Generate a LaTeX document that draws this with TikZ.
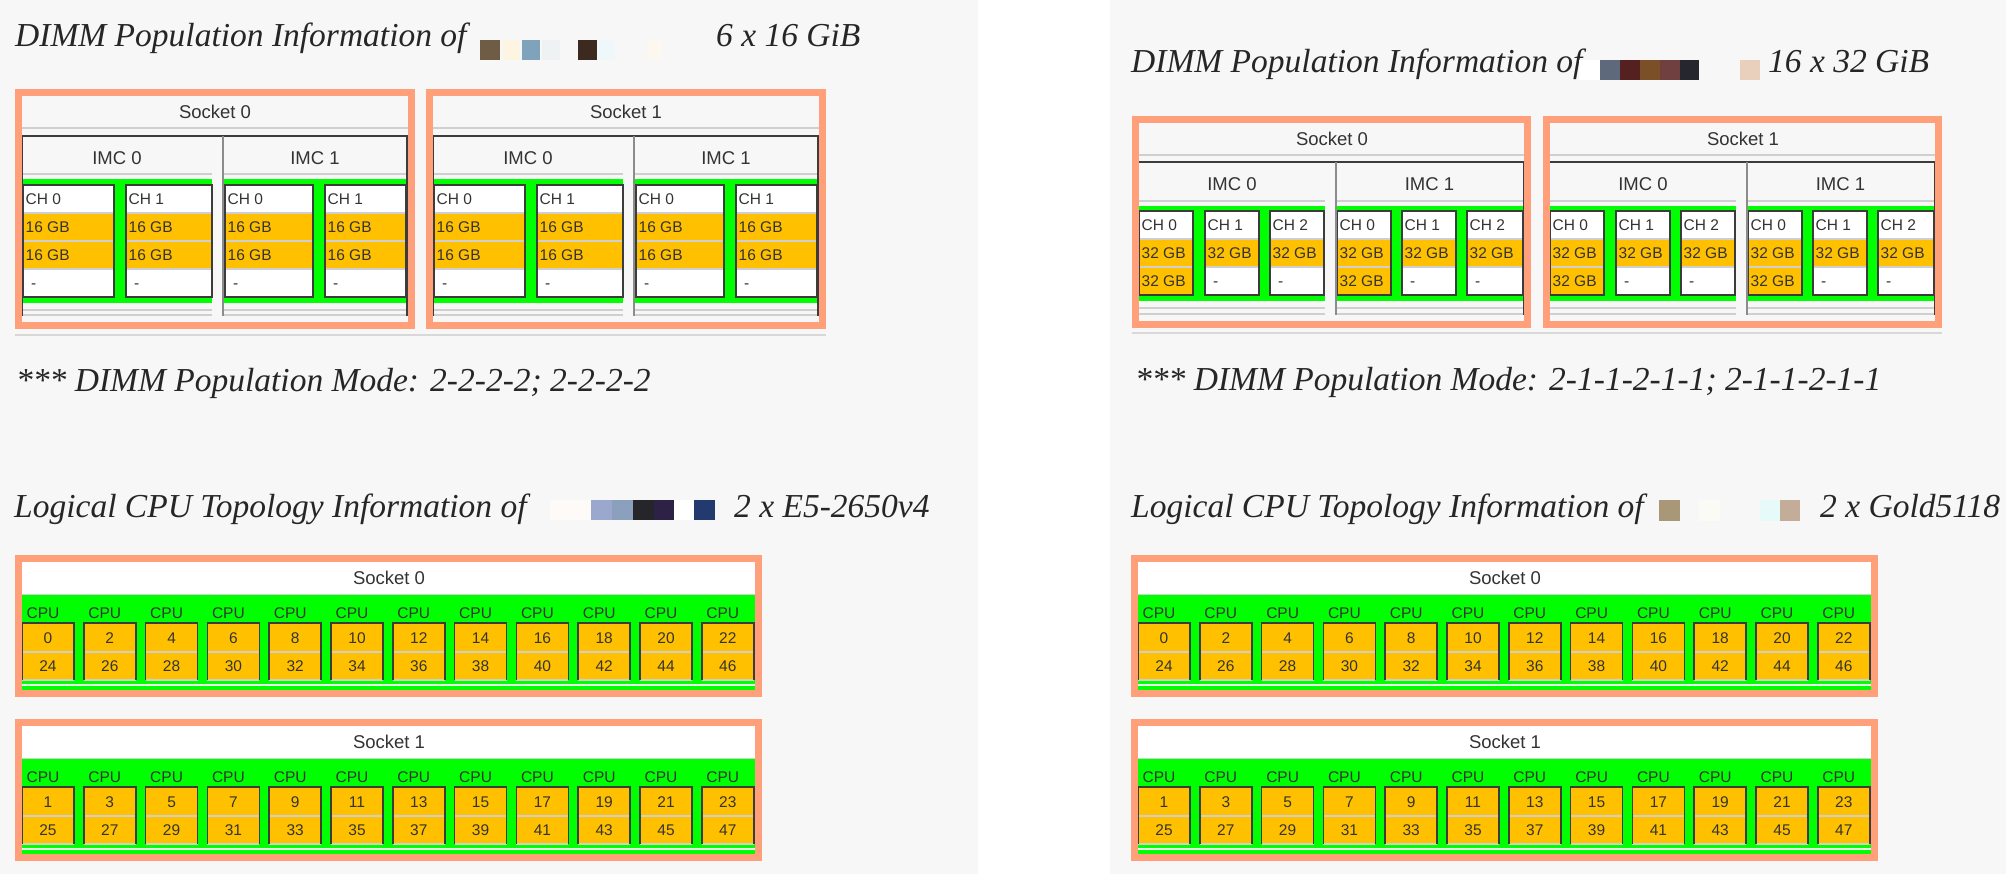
\documentclass[tikz,border=0pt]{standalone}
\usepackage{fontspec}
\setmainfont{Liberation Serif}
\setsansfont{Liberation Sans}
\definecolor{pagebg}{HTML}{F7F7F7}
\definecolor{salmonc}{HTML}{FFA07A}
\definecolor{limec}{HTML}{00FF00}
\definecolor{goldc}{HTML}{FFC000}
\definecolor{txtc}{HTML}{333333}
\definecolor{ttlc}{HTML}{262626}
\definecolor{sepc}{HTML}{CFCFCF}
\definecolor{brdc}{HTML}{3C3C3C}
\definecolor{splitc}{HTML}{8C8C8C}
\definecolor{rulec}{HTML}{D8D8D8}
\tikzset{
  ttl/.style={font=\fontsize{33.5}{40}\selectfont\itshape, text=ttlc, inner sep=0pt, anchor=base west},
  celltxt/.style={font=\sffamily\fontsize{15.5}{18}\selectfont, text=txtc, inner sep=0pt, text height=11pt, text depth=0pt, anchor=west},
  numtxt/.style={font=\sffamily\fontsize{15.5}{18}\selectfont, text=txtc, inner sep=0pt, text height=11pt, text depth=0pt},
  hdrtxt/.style={font=\sffamily\fontsize{18.5}{22}\selectfont, text=txtc, inner sep=0pt, text height=13pt, text depth=0pt},
  sockframe/.style={draw=salmonc, line width=7pt},
  sepline/.style={draw=sepc, line width=2pt},
  rowsep/.style={draw=sepc, line width=1.5pt},
  tblline/.style={draw=brdc, line width=1.5pt},
  splitline/.style={draw=splitc, line width=1.2pt},
  cellbox/.style={draw=brdc, line width=1.5pt},
  pagerule/.style={draw=rulec, line width=2.5pt},
}
% #1 name, #2 x1, #3 x2, #4 ytop, #5 channel label, #6 rows, #7 total height
\newcommand\dimmcol[7]{%
  \fill[white] (#2,#4) rectangle (#3,#4+28);
  \node[celltxt] (#1c) at (#2+2.5,#4+14) {#5};
  \foreach \r/\f/\o/\t [count=\k] in {#6}{%
    \fill[\f] (#2,#4+28*\r) rectangle (#3,#4+28*\r+28);
    \draw[rowsep] (#2,#4+28*\r) -- (#3,#4+28*\r);
    \node[celltxt] (#1r\k) at (#2+\o,#4+28*\r+14) {\t};
  }
  \draw[cellbox] (#2,#4) rectangle (#3,#4+#7);
}
\newcommand\dimmL[4]{%
\begin{scope}[shift={(#1,#2)}]
  \node[hdrtxt] (#4) at (200,23) {#3};
  \draw[sepline] (7,39) -- (393,39);
  \fill[limec] (7,90) rectangle (197,214);
  \fill[limec] (209,90) rectangle (392,214);
  \node[hdrtxt] (#4i0) at (102,69) {IMC 0};
  \node[hdrtxt] (#4i1) at (300,69) {IMC 1};
  \draw[sepline] (8,85) -- (197,85);
  \draw[sepline] (209,85) -- (391,85);
  \dimmcol{#4m0a}{8}{99}{96}{CH 0}{1/goldc/2.5/16 GB,2/goldc/2.5/16 GB,3/white/8/-}{112}
  \dimmcol{#4m0b}{111}{197}{96}{CH 1}{1/goldc/2.5/16 GB,2/goldc/2.5/16 GB,3/white/8/-}{112}
  \dimmcol{#4m1a}{210}{298}{96}{CH 0}{1/goldc/2.5/16 GB,2/goldc/2.5/16 GB,3/white/8/-}{112}
  \dimmcol{#4m1b}{310}{391}{96}{CH 1}{1/goldc/2.5/16 GB,2/goldc/2.5/16 GB,3/white/8/-}{112}
  \draw[sepline] (8,221) -- (197,221);
  \draw[sepline] (8,226) -- (197,226);
  \draw[sepline] (209,221) -- (391,221);
  \draw[sepline] (209,226) -- (391,226);
  \draw[tblline] (7,227) -- (7,47) -- (392,47) -- (392,227);
  \draw[splitline] (208,47) -- (208,227);
  \draw[sockframe] (3.5,3.5) rectangle (396.5,236.5);
\end{scope}}
\newcommand\dimmR[4]{%
\begin{scope}[shift={(#1,#2)}]
  \node[hdrtxt] (#4) at (200,23) {#3};
  \draw[sepline] (6,39) -- (393,39);
  \fill[limec] (6,90) rectangle (193,185);
  \fill[limec] (205,90) rectangle (392,185);
  \node[hdrtxt] (#4i0) at (100,68) {IMC 0};
  \node[hdrtxt] (#4i1) at (297.5,68) {IMC 1};
  \draw[sepline] (7,85) -- (193,85);
  \draw[sepline] (205,85) -- (391,85);
  \dimmcol{#4m0a}{7}{61}{95}{CH 0}{1/goldc/2.5/32 GB,2/goldc/2.5/32 GB}{84}
  \dimmcol{#4m0b}{73}{127}{95}{CH 1}{1/goldc/2.5/32 GB,2/white/8/-}{84}
  \dimmcol{#4m0c}{138}{192}{95}{CH 2}{1/goldc/2.5/32 GB,2/white/8/-}{84}
  \dimmcol{#4m1a}{205}{259}{95}{CH 0}{1/goldc/2.5/32 GB,2/goldc/2.5/32 GB}{84}
  \dimmcol{#4m1b}{270}{324}{95}{CH 1}{1/goldc/2.5/32 GB,2/white/8/-}{84}
  \dimmcol{#4m1c}{335}{391}{95}{CH 2}{1/goldc/2.5/32 GB,2/white/8/-}{84}
  \draw[sepline] (7,192) -- (193,192);
  \draw[sepline] (7,198) -- (193,198);
  \draw[sepline] (205,192) -- (391,192);
  \draw[sepline] (205,198) -- (391,198);
  \draw[tblline] (6,199) -- (6,46) -- (392,46) -- (392,199);
  \draw[splitline] (204,46) -- (204,199);
  \draw[sockframe] (3.5,3.5) rectangle (395.5,208.5);
\end{scope}}
% #1 X, #2 Y, #3 label, #4 prefix, #5 parity
\newcommand\cpusock[5]{%
\begin{scope}[shift={(#1,#2)}]
  \fill[white] (7,7) rectangle (740,39);
  \fill[limec] (7,40) rectangle (740,135);
  \draw[rowsep] (7,39.5) -- (740,39.5);
  \node[hdrtxt] (#4) at (374,23) {#3};
  \foreach \i in {0,...,11}{%
    \pgfmathsetmacro\bx{7+61.8*\i}
    \pgfmathtruncatemacro\na{2*\i+#5}
    \pgfmathtruncatemacro\nb{24+2*\i+#5}
    \node[numtxt] (#4cpu\i) at (\bx+21,58) {CPU};
    \fill[goldc] (\bx,68) rectangle (\bx+52,125);
    \draw[rowsep] (\bx,97) -- (\bx+52,97);
    \draw[rowsep] (\bx,125) -- (\bx+52,125);
    \draw[cellbox] (\bx,125) -- (\bx,68) -- (\bx+52,68) -- (\bx+52,125);
    \node[numtxt] (#4a\i) at (\bx+26,82.5) {\na};
    \node[numtxt] (#4b\i) at (\bx+26,111) {\nb};
  }
  \draw[draw=white!60!sepc, line width=1.5pt] (7,130) -- (740,130);
  \draw[sockframe] (3.5,3.5) rectangle (743.5,138.5);
\end{scope}}
\begin{document}
\begin{tikzpicture}[x=1pt,y=-1pt]
\useasboundingbox (0,0) rectangle (2006,874);
\fill[pagebg] (0,0) rectangle (978,874);
\fill[white] (978,0) rectangle (1110,874);
\fill[pagebg] (1110,0) rectangle (2006,874);
% ---------- left panel ----------
\node[ttl] (t1) at (15,47) {DIMM Population Information of};
\foreach \a/\b/\c in {480/500/6E5C45,503/520/FDF5E2,522/540/7FA3BA,542/560/EEF2F2,578/597/3C2A20,598/615/EEF8FA,648/662/FCF8F0}{
  \definecolor{redc}{HTML}{\c}\fill[redc] (\a,40) rectangle (\b,60);}
\node[ttl] (t1b) at (716,47) {6 x 16 GiB};
\dimmL{15}{89}{Socket 0}{ls0}
\dimmL{426}{89}{Socket 1}{ls1}
\coordinate (r1a) at (15,335);
\coordinate (r1b) at (826,335);
\draw[pagerule] (r1a) -- (r1b);
\node[ttl] (m1) at (16,392) {*** DIMM Population Mode: 2-2-2-2; 2-2-2-2};
\node[ttl] (l1) at (14,517) {Logical CPU Topology Information of};
\foreach \a/\b/\c in {550/591/FDFAF8,591/612/99A8CC,612/633/8AA0BC,633/654/26262A,654/674/2D2145,674/694/FFFFFF,694/715/223A6E}{
  \definecolor{redc}{HTML}{\c}\fill[redc] (\a,500) rectangle (\b,520);}
\node[ttl] (l1b) at (734,517) {2 x E5-2650v4};
\cpusock{15}{555}{Socket 0}{lc0}{0}
\cpusock{15}{719}{Socket 1}{lc1}{1}
% ---------- right panel ----------
\node[ttl] (t2) at (1131,73) {DIMM Population Information of};
\foreach \a/\b/\c in {1579/1600/FFFFFF,1600/1620/5E6A7C,1620/1640/552020,1640/1660/7B5028,1660/1680/704040,1680/1699/26262E,1740/1760/E8D0BC}{
  \definecolor{redc}{HTML}{\c}\fill[redc] (\a,60) rectangle (\b,80);}
\node[ttl] (t2b) at (1768,73) {16 x 32 GiB};
\dimmR{1132}{116}{Socket 0}{rs0}
\dimmR{1543}{116}{Socket 1}{rs1}
\coordinate (r2a) at (1132,333);
\coordinate (r2b) at (1942,333);
\draw[pagerule] (r2a) -- (r2b);
\node[ttl] (m2) at (1135,391) {*** DIMM Population Mode: 2-1-1-2-1-1; 2-1-1-2-1-1};
\node[ttl] (l2) at (1131,517) {Logical CPU Topology Information of};
\foreach \a/\b/\c in {1659/1680/A89878,1699/1720/FBFBF5,1760/1780/E6FAFA,1780/1800/C4AD98}{
  \definecolor{redc}{HTML}{\c}\fill[redc] (\a,500) rectangle (\b,521);}
\node[ttl] (l2b) at (1820,517) {2 x Gold5118};
\cpusock{1131}{555}{Socket 0}{rc0}{0}
\cpusock{1131}{719}{Socket 1}{rc1}{1}
\end{tikzpicture}
\end{document}
